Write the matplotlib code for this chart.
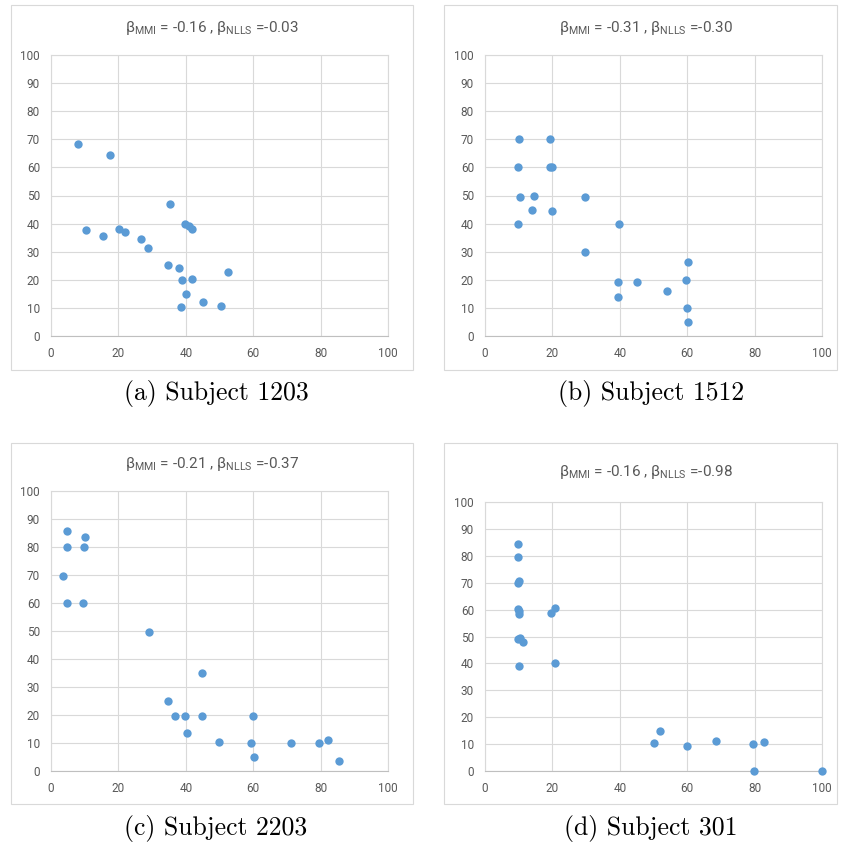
"""plot.py
Four scatter panels (one per subject) in the style of Excel charts,
each with a grey frame, the beta values on top and a caption below.
"""

import matplotlib.pyplot as plt
from matplotlib.patches import Rectangle

# data
a_x = [7.9, 17.4, 10.5, 15.5, 20.3, 21.9, 26.6, 28.9, 35.2, 39.9, 40.9, 41.9,
       34.8, 37.9, 38.9, 41.8, 40.2, 38.6, 45.0, 50.3, 52.6]
a_y = [68.2, 64.3, 37.6, 35.5, 38.1, 36.9, 34.6, 31.2, 46.9, 40.0, 39.0, 38.1,
       25.1, 24.3, 19.8, 20.2, 14.8, 10.2, 12.2, 10.6, 22.8]

b_x = [10.1, 19.4, 9.8, 19.4, 20.0, 10.5, 14.6, 13.9, 20.0, 9.9, 29.7, 29.7,
       39.9, 39.6, 45.0, 39.6, 53.9, 60.1, 59.5, 59.9, 60.2]
b_y = [70.0, 70.0, 60.1, 60.0, 60.0, 49.5, 49.8, 45.0, 44.5, 40.0, 49.5, 30.0,
       40.0, 19.3, 19.3, 14.0, 15.9, 26.2, 19.8, 9.8, 4.9]

c_x = [4.7, 10.2, 4.7, 9.9, 3.5, 4.7, 9.5, 29.2, 44.7, 34.6, 36.7, 39.9,
       44.7, 40.3, 50.0, 59.2, 59.9, 60.2, 71.2, 79.4, 82.3, 85.5]
c_y = [85.6, 83.6, 79.9, 79.9, 69.7, 60.0, 60.0, 49.8, 35.0, 25.1, 19.7, 19.7,
       19.7, 13.6, 10.5, 9.9, 19.7, 4.9, 9.9, 9.9, 10.9, 3.4]

d_x = [9.9, 9.9, 9.7, 10.2, 9.8, 10.0, 10.2, 9.7, 10.4, 11.2, 10.2, 19.7,
       20.7, 20.7, 50.1, 52.0, 59.9, 68.4, 79.4, 82.7, 79.7, 100.0]
d_y = [84.3, 79.6, 70.0, 70.7, 60.2, 59.3, 58.5, 49.0, 49.3, 47.9, 39.1, 58.9,
       60.6, 40.0, 10.3, 15.0, 9.4, 11.0, 9.9, 10.6, 0.0, 0.0]

titles = [r"β$_{\mathregular{MMI}}$ = -0.16 , β$_{\mathregular{NLLS}}$ =-0.03",
          r"β$_{\mathregular{MMI}}$ = -0.31 , β$_{\mathregular{NLLS}}$ =-0.30",
          r"β$_{\mathregular{MMI}}$ = -0.21 , β$_{\mathregular{NLLS}}$ =-0.37",
          r"β$_{\mathregular{MMI}}$ = -0.16 , β$_{\mathregular{NLLS}}$ =-0.98"]
captions = ["(a) Subject 1203", "(b) Subject 1512",
            "(c) Subject 2203", "(d) Subject 301"]
ticks = [0, 20, 40, 60, 80, 100]
yticks = [0, 10, 20, 30, 40, 50, 60, 70, 80, 90, 100]

W, H = 843, 848
GREY = "#595959"
GRID = "#d9d9d9"
BLUE = "#5b9bd5"


def fx(px):
    return px / W


def fy(py):
    return 1 - py / H


def scatter_panel(fig, box, frame, title_xy, caption_xy, xs, ys, title, caption):
    """box / frame are pixel (left, top, right, bottom)."""
    l, t, r, b = box
    ax = fig.add_axes([fx(l), fy(b), fx(r - l), fy(t) - fy(b)])
    ax.scatter(xs, ys, s=36, color=BLUE, linewidths=0, zorder=3, clip_on=False)
    ax.set_xlim(0, 100)
    ax.set_ylim(0, 100)
    ax.set_xticks(ticks)
    ax.set_yticks(yticks)
    ax.grid(True, color=GRID, linewidth=0.8)
    ax.set_axisbelow(True)
    for side in ax.spines:
        ax.spines[side].set_color(GRID)
        ax.spines[side].set_linewidth(0.8)
    ax.spines["bottom"].set_color("#bfbfbf")
    ax.tick_params(length=0, labelsize=8.5, labelcolor=GREY, pad=8)
    for lab in ax.get_xticklabels() + ax.get_yticklabels():
        lab.set_family("Roboto")

    fl, ft, fr, fb = frame
    fig.add_artist(Rectangle((fx(fl), fy(fb)), fx(fr - fl), fy(ft) - fy(fb),
                             transform=fig.transFigure, fill=False,
                             edgecolor=GRID, linewidth=0.8))
    fig.text(fx(title_xy[0]), fy(title_xy[1]), title, ha="center", va="center",
             color=GREY, fontsize=11, family="Roboto")
    fig.text(fx(caption_xy[0]), fy(caption_xy[1]), caption, ha="center",
             va="center", fontsize=18.5, family="cmr10")


plt.rcParams["mathtext.fontset"] = "custom"
plt.rcParams["mathtext.rm"] = "Roboto"

fig = plt.figure(figsize=(W / 100, H / 100), dpi=100)

scatter_panel(fig, (51, 55, 388, 336), (11, 5, 413, 370), (212, 28), (216, 394),
              a_x, a_y, titles[0], captions[0])
scatter_panel(fig, (485, 55, 822, 336), (444, 5, 837, 370), (646, 28), (651, 394),
              b_x, b_y, titles[1], captions[1])
scatter_panel(fig, (51, 491, 388, 771), (11, 443, 413, 804), (212, 464), (216, 829),
              c_x, c_y, titles[2], captions[2])
scatter_panel(fig, (485, 502, 822, 771), (444, 443, 837, 804), (646, 472), (651, 829),
              d_x, d_y, titles[3], captions[3])

plt.savefig("out.png", dpi=100)
plt.close(fig)
